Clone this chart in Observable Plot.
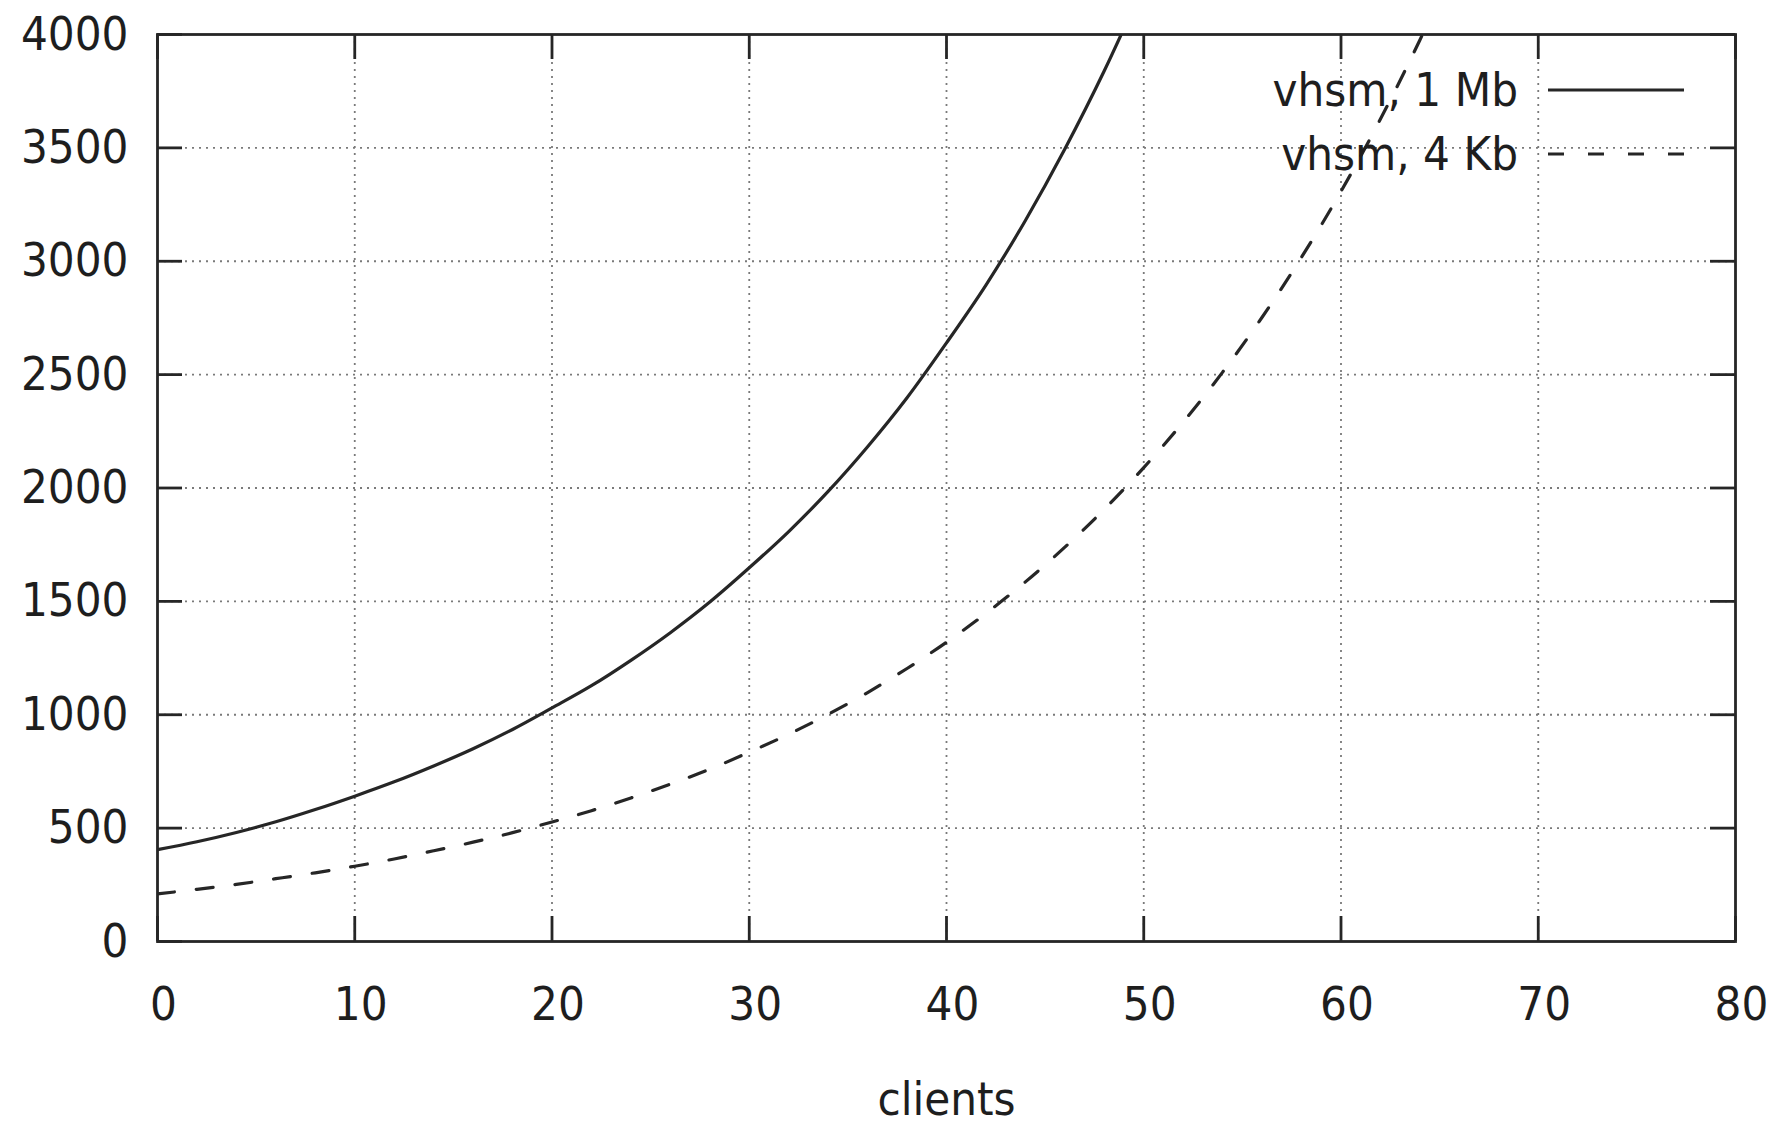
<!DOCTYPE html>
<html>
<head>
<meta charset="utf-8">
<script src="https://cdn.jsdelivr.net/npm/d3@7"></script>
<script src="https://cdn.jsdelivr.net/npm/@observablehq/plot@0.6"></script>
<style>
html, body { margin: 0; padding: 0; background: #fff; }
#wrap { position: relative; width: 1780px; height: 1125px; }
</style>
</head>
<body>
<div id="wrap"></div>
<script>
// ---- data ----
const clientsMb = [0, 2, 4, 6, 8, 10, 12, 14, 16, 18, 20, 22, 24, 26, 28, 30, 32, 34, 36, 38, 40, 42, 44, 46, 48, 50];
const vhsm1Mb   = [405, 440, 481, 528, 582, 641, 704, 774, 850, 935, 1030, 1128, 1240, 1362, 1497, 1648, 1808, 1985, 2182, 2398, 2640, 2895, 3180, 3495, 3840, 4220];

const clientsKb = [0, 2, 4, 6, 8, 10, 12, 14, 16, 18, 20, 22, 24, 26, 28, 30, 32, 34, 36, 38, 40, 42, 44, 46, 48, 50, 52, 54, 56, 58, 60, 62, 64, 66];
const vhsm4Kb   = [210, 230, 252, 277, 303, 332, 364, 400, 438, 480, 527, 577, 633, 694, 760, 835, 914, 1002, 1098, 1204, 1320, 1447, 1586, 1739, 1906, 2090, 2291, 2511, 2753, 3018, 3308, 3627, 3976, 4358];

const seriesNames = ["vhsm, 1 Mb", "vhsm, 4 Kb"];
const xTicks = [0, 10, 20, 30, 40, 50, 60, 70, 80];
const yTicks = [0, 500, 1000, 1500, 2000, 2500, 3000, 3500, 4000];
const xLabel = "clients";

// ---- layout ----
const W = 1780, H = 1125;
const mL = 157, mR = 45, mT = 34, mB = 184;
const fw = W - mL - mR, fh = H - mT - mB;
const FONT = "'DejaVu Sans Condensed', 'Liberation Sans', sans-serif";
const TEXT = "#1e1e1e";
const INK = "#262626";

const s1 = clientsMb.map((c, i) => ({x: c, y: vhsm1Mb[i]}));
const s2 = clientsKb.map((c, i) => ({x: c, y: vhsm4Kb[i]}));

const gridStyle = {stroke: "#7a7a7a", strokeOpacity: 1, strokeWidth: 1.8, strokeDasharray: "2,5"};
const tickStyle = {stroke: INK, strokeWidth: 2.8};

const chart = Plot.plot({
  width: W, height: H,
  marginLeft: mL, marginRight: mR, marginTop: mT, marginBottom: mB,
  style: {fontFamily: FONT, fontSize: "47px", color: TEXT, background: "#fff"},
  x: {domain: [0, 80]},
  y: {domain: [0, 4000]},
  marks: [
    Plot.gridX(xTicks.slice(1, -1), gridStyle),
    Plot.gridY(yTicks.slice(1, -1), gridStyle),
    Plot.axisX(xTicks, {tickSize: 0, tickPadding: 45, dx: 6, label: null, fill: TEXT, tickFormat: d3.format("d")}),
    Plot.axisY(yTicks, {tickSize: 0, tickPadding: 29, label: null, fill: TEXT, tickFormat: d3.format("d")}),
    Plot.tickX(xTicks, {x: d => d, insetTop: fh - 25, ...tickStyle}),
    Plot.tickX(xTicks, {x: d => d, insetBottom: fh - 25, ...tickStyle}),
    Plot.tickY(yTicks, {y: d => d, insetRight: fw - 25, ...tickStyle}),
    Plot.tickY(yTicks, {y: d => d, insetLeft: fw - 25, ...tickStyle}),
    Plot.line(s1, {x: "x", y: "y", curve: "monotone-x", stroke: INK, strokeWidth: 3.2, clip: true}),
    Plot.line(s2, {x: "x", y: "y", curve: "monotone-x", stroke: INK, strokeWidth: 3.2, strokeDasharray: "17,22", clip: true}),
    Plot.frame({stroke: INK, strokeWidth: 2.8}),
    Plot.text([xLabel], {text: d => d, frameAnchor: "bottom", dy: 158, lineAnchor: "middle", fontSize: 47, fill: TEXT})
  ]
});
document.getElementById("wrap").appendChild(chart);

// ---- legend (inside the plot, top right) ----
const leg = d3.select("#wrap").append("svg")
  .attr("width", W).attr("height", H)
  .style("position", "absolute").style("left", "0px").style("top", "0px")
  .style("pointer-events", "none");
const dashes = [null, "16,24"];
seriesNames.forEach((name, i) => {
  const cy = 90 + i * 64;
  leg.append("text")
    .attr("x", 1518).attr("y", cy).attr("dy", "0.35em")
    .attr("text-anchor", "end")
    .attr("font-family", FONT).attr("font-size", 47).attr("fill", TEXT)
    .text(name);
  const ln = leg.append("line")
    .attr("x1", 1548).attr("x2", 1684).attr("y1", cy).attr("y2", cy)
    .attr("stroke", INK).attr("stroke-width", 3);
  if (dashes[i]) ln.attr("stroke-dasharray", dashes[i]);
});
</script>
</body>
</html>
